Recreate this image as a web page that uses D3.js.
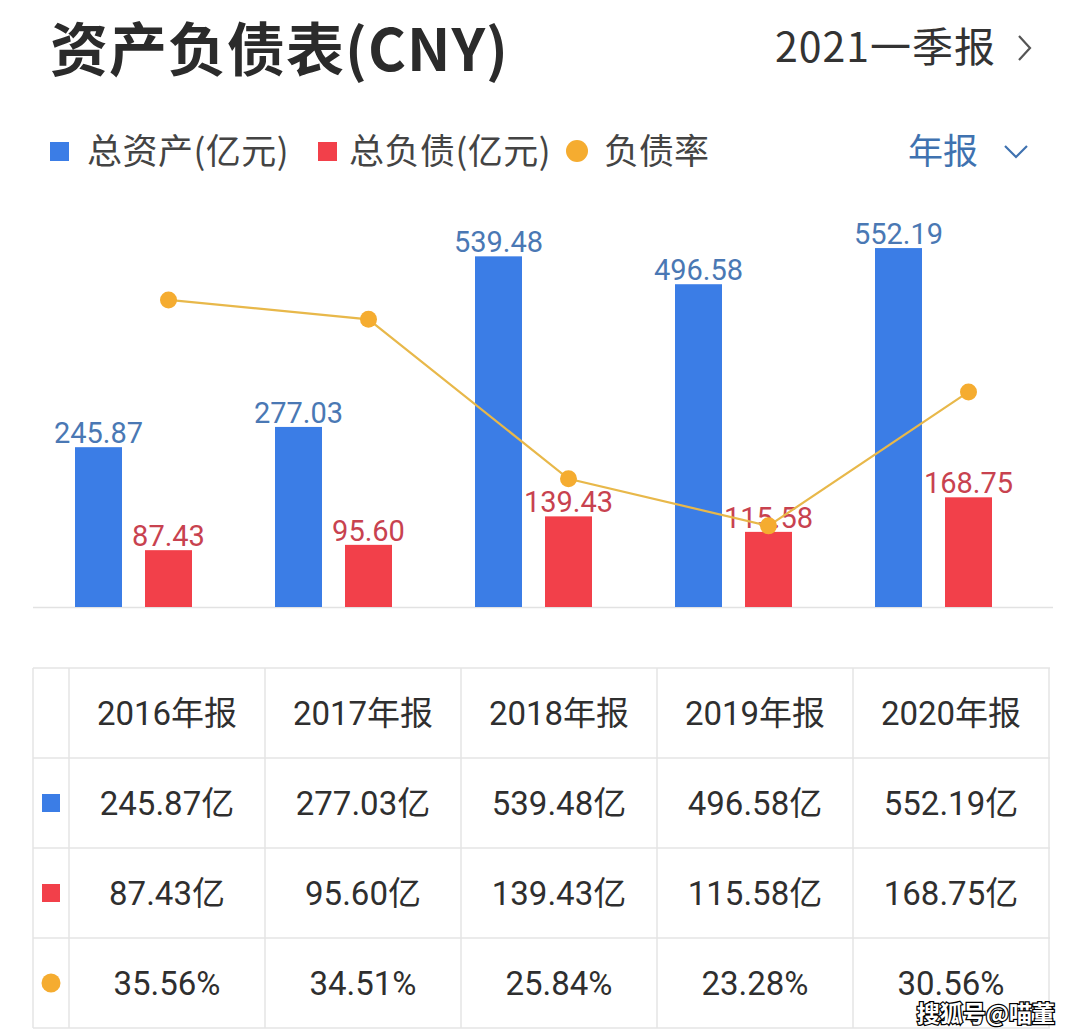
<!DOCTYPE html>
<html>
<head>
<meta charset="utf-8">
<script src="https://cdn.jsdelivr.net/npm/d3@7/dist/d3.min.js"></script>
<style>
html,body{margin:0;padding:0;background:#fff;}
svg{display:block;}
</style>
</head>
<body>
<svg id="chart" width="1080" height="1033"></svg>
<script>
// ---- data ----
const years = ["2016", "2017", "2018", "2019", "2020"];
const yearLabels = ["2016年报", "2017年报", "2018年报", "2019年报", "2020年报"];
const totalAssets = [245.87, 277.03, 539.48, 496.58, 552.19];
const totalLiabilities = [87.43, 95.60, 139.43, 115.58, 168.75];
const debtRatio = [35.56, 34.51, 25.84, 23.28, 30.56];
const seriesNames = ["总资产(亿元)", "总负债(亿元)", "负债率"];

const svg = d3.select("#chart");
const CJK = "'Noto Sans CJK SC','Noto Sans',sans-serif";
const NUM = "Roboto,'Noto Sans CJK SC',sans-serif";
const BLUE = "#3b7de6", RED = "#f2404a", ORANGE = "#f5ac30", LINE = "#e8b84a";

// ---- header ----
svg.append("text").attr("x", 50).attr("y", 71)
  .attr("font-family", CJK).attr("font-weight", 700).attr("font-size", 58)
  .attr("letter-spacing", 1).attr("fill", "#2b2b2b").text("资产负债表(CNY)");
svg.append("text").attr("x", 996).attr("y", 62).attr("text-anchor", "end")
  .attr("font-family", CJK).attr("font-size", 41).attr("letter-spacing", 1)
  .attr("fill", "#333").text("2021一季报");
svg.append("path").attr("d", "M1019,36 L1030,48 L1019,60")
  .attr("fill", "none").attr("stroke", "#555").attr("stroke-width", 2.2);

// ---- legend ----
const lg = svg.append("g").attr("font-family", CJK).attr("font-size", 35).attr("fill", "#444");
lg.append("rect").attr("x", 50).attr("y", 142).attr("width", 19).attr("height", 19).attr("fill", BLUE);
lg.append("text").attr("x", 87).attr("y", 164).attr("letter-spacing", 0.5).text(seriesNames[0]);
lg.append("rect").attr("x", 318).attr("y", 142).attr("width", 19).attr("height", 19).attr("fill", RED);
lg.append("text").attr("x", 349).attr("y", 164).attr("letter-spacing", 0.5).text(seriesNames[1]);
lg.append("circle").attr("cx", 577).attr("cy", 151).attr("r", 11).attr("fill", ORANGE);
lg.append("text").attr("x", 604).attr("y", 164).text(seriesNames[2]);
svg.append("text").attr("x", 908).attr("y", 164)
  .attr("font-family", CJK).attr("font-size", 35).attr("fill", "#3f72b0").text("年报");
svg.append("path").attr("d", "M1005,146 L1016,157 L1027,146")
  .attr("fill", "none").attr("stroke", "#3f72b0").attr("stroke-width", 2.2);

// ---- scales ----
const x0 = d3.scaleBand().domain(years).range([33, 1033]).padding(0);
const keys = ["assets", "liab"];
const x1 = d3.scaleBand().domain(keys).range([42, 159]).paddingInner(23 / 70).paddingOuter(0);
const yAmt = d3.scaleLinear().domain([0, 600]).range([607, 217]);
const yRate = d3.scaleLinear().domain([18.87, 40.07]).range([607, 217]);

const seriesData = { assets: totalAssets, liab: totalLiabilities };
const seriesColor = { assets: BLUE, liab: RED };
const labelColor = { assets: "#4a78b4", liab: "#c8424f" };

// baseline
svg.append("line").attr("x1", 33).attr("x2", 1053).attr("y1", 607.5).attr("y2", 607.5)
  .attr("stroke", "#e2e2e2").attr("stroke-width", 1.5);

const groups = svg.append("g").selectAll("g").data(years).join("g")
  .attr("transform", d => `translate(${x0(d)},0)`);

keys.forEach(k => {
  groups.append("rect")
    .attr("x", x1(k)).attr("width", x1.bandwidth())
    .attr("y", (d, i) => yAmt(seriesData[k][i]))
    .attr("height", (d, i) => yAmt(0) - yAmt(seriesData[k][i]))
    .attr("fill", seriesColor[k]);
  groups.append("text")
    .attr("x", x1(k) + x1.bandwidth() / 2)
    .attr("y", (d, i) => yAmt(seriesData[k][i]) - 4)
    .attr("text-anchor", "middle")
    .attr("font-family", NUM).attr("font-size", 29)
    .attr("fill", labelColor[k])
    .text((d, i) => seriesData[k][i].toFixed(2));
});

// line
const lx = (d, i) => x0(years[i]) + x1("liab") + x1.bandwidth() / 2;
const line = d3.line().x(lx).y(d => yRate(d));
svg.append("path").datum(debtRatio).attr("d", line)
  .attr("fill", "none").attr("stroke", LINE).attr("stroke-width", 2.2);
svg.append("g").selectAll("circle").data(debtRatio).join("circle")
  .attr("cx", lx).attr("cy", d => yRate(d)).attr("r", 8.5).attr("fill", ORANGE);

// ---- table ----
const colX = d3.scaleBand().domain(years).range([69, 1049]);
const rowY = d3.scaleBand().domain(["head", "assets", "liab", "rate"]).range([668, 1028]);
const tb = svg.append("g");
const GRID = "#e4e4e4";
rowY.domain().concat(["end"]).forEach((r, i) => {
  const y = 668 + i * rowY.step();
  tb.append("line").attr("x1", 33).attr("x2", 1050).attr("y1", y).attr("y2", y)
    .attr("stroke", GRID).attr("stroke-width", 1.5);
});
[33, 69].concat(years.map(y => colX(y) + colX.bandwidth())).forEach(x => {
  tb.append("line").attr("x1", x).attr("x2", x).attr("y1", 668).attr("y2", 1028)
    .attr("stroke", GRID).attr("stroke-width", 1.5);
});
const cy = r => rowY(r) + rowY.bandwidth() / 2;
tb.append("rect").attr("x", 42).attr("y", cy("assets") - 9).attr("width", 18).attr("height", 18).attr("fill", BLUE);
tb.append("rect").attr("x", 42).attr("y", cy("liab") - 9).attr("width", 18).attr("height", 18).attr("fill", RED);
tb.append("circle").attr("cx", 51).attr("cy", cy("rate")).attr("r", 9.5).attr("fill", ORANGE);

const rowsText = [
  ["head", yearLabels],
  ["assets", totalAssets.map(v => v.toFixed(2) + "亿")],
  ["liab", totalLiabilities.map(v => v.toFixed(2) + "亿")],
  ["rate", debtRatio.map(v => v.toFixed(2) + "%")]
];
rowsText.forEach(([r, vals]) => {
  tb.append("g").selectAll("text").data(vals).join("text")
    .attr("x", (d, i) => colX(years[i]) + colX.bandwidth() / 2)
    .attr("y", cy(r) + 12)
    .attr("text-anchor", "middle")
    .attr("font-family", NUM).attr("font-size", 33)
    .attr("fill", "#2f2f2f")
    .text(d => d);
});

// watermark
svg.append("text").attr("x", 1055).attr("y", 1022).attr("text-anchor", "end")
  .attr("font-family", CJK).attr("font-weight", 700).attr("font-size", 23)
  .attr("fill", "#fff").attr("stroke", "#000").attr("stroke-width", 2.5)
  .attr("paint-order", "stroke").text("搜狐号@喵董");
</script>
</body>
</html>
